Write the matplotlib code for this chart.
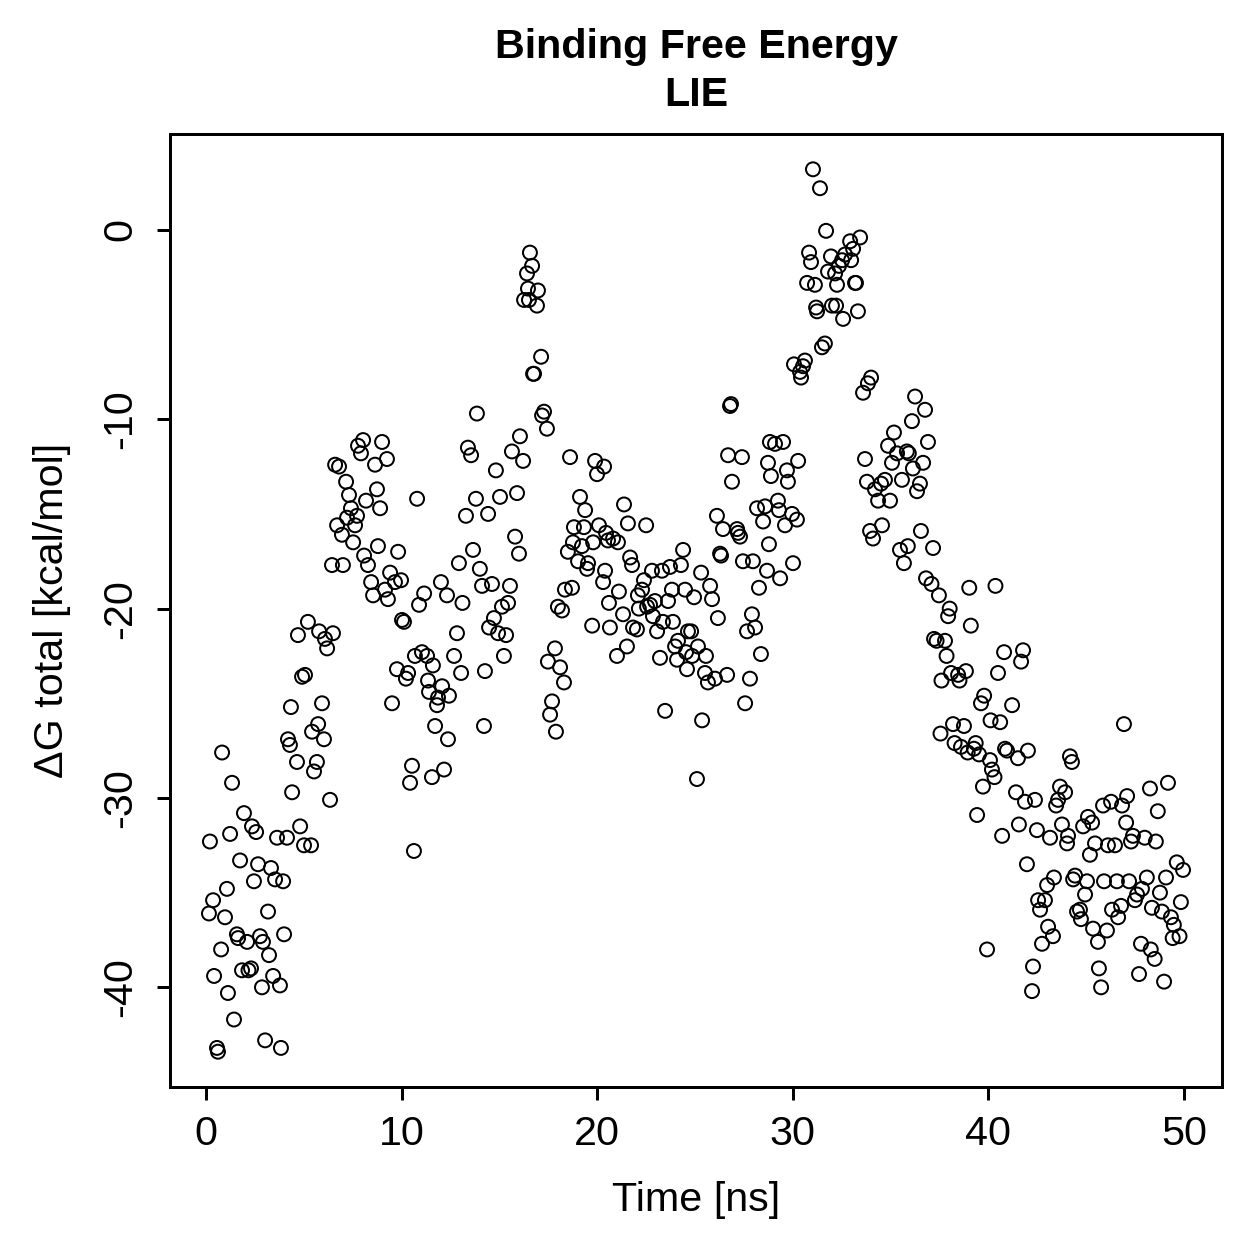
import matplotlib
matplotlib.use("Agg")
import matplotlib.pyplot as plt

plt.rcParams['font.family'] = ['Liberation Sans', 'DejaVu Sans']

# time [ns] and dG total [kcal/mol]
time_ns = [
    0.15, 0.2, 0.36, 0.41, 0.56, 0.61, 0.77, 0.82, 0.97, 1.07, 1.12, 1.23, 1.33, 1.43, 1.58,
    1.64, 1.74, 1.84, 1.94, 2.1, 2.17, 2.3, 2.35, 2.45, 2.56, 2.66, 2.76, 2.86, 2.91, 3.02,
    3.17, 3.22, 3.32, 3.43, 3.53, 3.63, 3.78, 3.83, 3.94, 3.99, 4.14, 4.19, 4.29, 4.34, 4.4,
    4.65, 4.7, 4.81, 4.91, 5.01, 5.06, 5.21, 5.37, 5.42, 5.52, 5.67, 5.73, 5.78, 5.93, 6.03,
    6.08, 6.19, 6.34, 6.44, 6.49, 6.6, 6.7, 6.8, 6.95, 7.0, 7.16, 7.21, 7.31, 7.41, 7.52,
    7.62, 7.72, 7.77, 7.92, 8.03, 8.08, 8.18, 8.28,
    8.44, 8.54, 8.64, 8.74, 8.79, 8.9, 9.0, 9.15, 9.25, 9.3, 9.41, 9.51, 9.66, 9.76, 9.82,
    9.97, 10.02, 10.12, 10.22, 10.33, 10.43, 10.53, 10.63, 10.68, 10.79, 10.89, 11.04, 11.15,
    11.3, 11.35, 11.4, 11.55, 11.6, 11.71, 11.81, 11.86, 12.01, 12.07, 12.17, 12.32, 12.37, 12.42,
    12.68, 12.83, 12.93, 13.04, 13.11, 13.29, 13.39, 13.55, 13.65, 13.8, 13.85, 14.0, 14.11,
    14.21, 14.26, 14.42, 14.47, 14.62, 14.72, 14.82, 14.93, 15.03, 15.13, 15.23, 15.34, 15.44,
    15.54, 15.64, 15.8, 15.9, 16.0, 16.05, 16.21,
    16.26, 16.41, 16.46, 16.51, 16.56, 16.67, 16.72, 16.77, 16.92, 16.97,
    17.13, 17.18, 17.28, 17.43, 17.48, 17.59, 17.69, 17.84, 17.89, 17.99, 18.1, 18.2, 18.3,
    18.35, 18.5, 18.61, 18.71, 18.76, 18.81, 19.02, 19.12, 19.22, 19.32, 19.38, 19.48, 19.53,
    19.74, 19.79, 19.89, 19.99, 20.09, 20.3, 20.35, 20.4, 20.45, 20.55, 20.6, 20.65,
    20.81, 21.01, 21.06, 21.11, 21.32, 21.37, 21.52, 21.57, 21.68, 21.78, 21.83, 22.03, 22.08,
    22.13, 22.29, 22.39, 22.5, 22.55, 22.7, 22.8, 22.85, 22.95, 23.06, 23.21, 23.31, 23.36,
    23.47, 23.62, 23.72, 23.82, 23.87, 23.98, 24.08, 24.13, 24.28, 24.39, 24.49, 24.54, 24.59, 24.64,
    24.8, 24.85, 24.95, 25.1, 25.15, 25.31, 25.36, 25.51, 25.56, 25.66, 25.77, 25.87, 26.02,
    26.12, 26.17, 26.28, 26.33, 26.43, 26.64, 26.69, 26.79, 26.84, 26.89, 27.15, 27.2, 27.3,
    27.4, 27.45, 27.56, 27.66, 27.81, 27.91, 27.96, 28.07, 28.17, 28.27, 28.37, 28.48, 28.58,
    28.68, 28.73, 28.78, 28.83, 28.88,
    29.09, 29.24, 29.29, 29.35, 29.5, 29.6, 29.7, 29.75, 29.96, 30.01, 30.06, 30.21, 30.27,
    30.37, 30.42, 30.52, 30.62, 30.73, 30.83, 30.93, 31.03, 31.13, 31.19, 31.24, 31.39, 31.49,
    31.64, 31.7, 31.8, 31.95, 32.0, 32.16, 32.21, 32.26, 32.36, 32.52, 32.57, 32.67,
    32.93, 32.98, 33.08, 33.18, 33.23, 33.33, 33.44, 33.59, 33.69, 33.79, 33.84, 33.95, 34.0,
    34.1, 34.2, 34.36, 34.51, 34.56, 34.71, 34.87, 34.97, 35.07, 35.17, 35.33, 35.48, 35.58,
    35.68, 35.83, 35.88, 35.93, 36.09, 36.14, 36.25, 36.35, 36.5, 36.55, 36.66, 36.76, 36.81, 36.91,
    37.09, 37.17, 37.22, 37.35, 37.47, 37.55, 37.6, 37.78, 37.86, 37.94, 38.02, 38.09, 38.19,
    38.27, 38.45, 38.52, 38.6, 38.75, 38.85, 38.94, 39.02, 39.1, 39.26, 39.35, 39.42, 39.52,
    39.62, 39.72, 39.78, 39.93, 40.08, 40.11, 40.18, 40.31, 40.36, 40.49, 40.6, 40.7, 40.8,
    40.85, 40.95,
    41.21, 41.41, 41.51, 41.56, 41.67, 41.77, 41.87, 41.97, 42.02, 42.23, 42.28, 42.38, 42.48,
    42.54, 42.64, 42.74, 42.89, 43.0, 43.05, 43.15, 43.3, 43.35, 43.46, 43.56, 43.66, 43.76,
    43.92, 44.02, 44.07, 44.17, 44.27, 44.33, 44.43, 44.53, 44.68, 44.73, 44.84, 44.94, 45.04, 45.09,
    45.19, 45.3, 45.35, 45.45, 45.6, 45.65, 45.76, 45.86, 45.91, 46.06, 46.11, 46.27, 46.32,
    46.47, 46.57, 46.63, 46.78, 46.83, 46.93, 47.04, 47.09, 47.19, 47.29, 47.39, 47.49, 47.6,
    47.7, 47.8, 47.85, 47.99, 48.1, 48.26, 48.3, 48.36, 48.5, 48.56, 48.66, 48.77, 48.87,
    48.98, 49.08, 49.18, 49.33, 49.42, 49.48, 49.63, 49.77, 49.84, 49.95,
]

dg_total = [
    -36.1, -32.3, -35.4, -39.4, -43.2, -43.4, -38.0, -27.6, -36.3, -34.8, -40.3, -31.9, -29.2, -41.7, -37.2,
    -37.4, -33.3, -39.1, -30.8, -37.6, -39.1, -39.0, -31.5, -34.4, -31.8, -33.5, -37.3, -40.0, -37.6, -42.8,
    -36.0, -38.3, -33.7, -39.4, -34.3, -32.1, -39.9, -43.2, -34.4, -37.2, -32.1, -26.9, -27.2, -25.2, -29.7,
    -28.1, -21.4, -31.5, -23.6, -32.5, -23.5, -20.7, -32.5, -26.5, -28.6, -28.1, -26.1, -21.2, -25.0, -26.9,
    -21.6, -22.1, -30.1, -17.7, -21.3, -12.4, -15.6, -12.5, -16.1, -17.7, -13.3, -15.2, -14.0, -14.7, -16.5,
    -15.6, -15.1, -11.4, -11.8, -11.1, -17.2, -14.3, -17.7,
    -18.6, -19.3, -12.4, -13.7, -16.7, -14.7, -11.2, -19.0, -12.1, -19.5, -18.1, -25.0, -18.6, -23.2, -17.0,
    -18.5, -20.6, -20.7, -23.7, -23.4, -29.2, -28.3, -32.8, -22.5, -14.2, -19.8, -22.3, -19.2,
    -22.5, -23.8, -24.4, -28.9, -23.0, -26.2, -25.1, -24.7, -18.6, -24.1, -28.5, -19.3, -26.9, -24.6,
    -22.5, -21.3, -17.6, -23.4, -19.7, -15.1, -11.5, -11.9, -16.9, -14.2, -9.7, -17.9, -18.8,
    -26.2, -23.3, -15.0, -21.0, -18.7, -20.5, -12.7, -21.3, -14.1, -19.9, -22.5, -21.4, -19.7,
    -18.8, -11.7, -16.2, -13.9, -17.1, -10.9, -12.2,
    -3.7, -2.3, -3.1, -3.7, -1.2, -1.9, -7.6, -7.6, -4.0, -3.2,
    -6.7, -9.8, -9.6, -10.5, -22.8, -25.6, -24.9, -22.1, -26.5, -19.9, -23.1, -20.1, -23.9,
    -19.0, -17.0, -12.0, -18.9, -16.5, -15.7, -17.5, -14.1, -16.7, -15.7, -14.8, -17.9, -17.6,
    -20.9, -16.5, -12.2, -12.9, -15.6, -18.6, -12.5, -18.0, -16.0, -16.4, -19.7, -21.0,
    -16.3, -22.5, -16.5, -19.1, -20.3, -14.5, -22.0, -15.5, -17.3, -17.7, -21.0, -21.1, -19.3,
    -20.0, -19.0, -18.5, -15.6, -19.9, -19.8, -18.0, -20.4, -19.6, -21.2, -22.6, -18.0, -20.7,
    -25.4, -19.6, -17.8, -19.0, -20.7, -22.0, -22.7, -21.7, -17.7, -16.9, -19.0, -22.3, -23.2, -21.2,
    -21.2, -22.5, -19.4, -29.0, -22.0, -18.1, -25.9, -23.4, -22.5, -23.9, -18.8, -19.5, -23.7,
    -15.1, -20.5, -17.1, -17.2, -15.8, -23.5, -11.9, -9.3, -9.2, -13.3, -15.8, -16.0, -16.2,
    -12.0, -17.5, -25.0, -21.2, -23.7, -20.3, -17.5, -21.0, -14.7, -18.9, -22.4, -15.4, -14.6,
    -18.0, -12.3, -16.6, -11.2, -13.0,
    -11.3, -14.3, -14.8, -18.4, -11.2, -15.6, -12.7, -13.3, -15.0, -17.6, -7.1, -15.3, -12.2,
    -7.5, -7.8, -7.2, -6.9, -2.8, -1.2, -1.7, 3.2, -2.9, -4.1, -4.3, 2.2, -6.2,
    -6.0, -0.05, -2.2, -1.4, -4.0, -2.3, -4.0, -2.9, -1.9, -1.6, -4.7, -1.3,
    -0.6, -1.6, -1.0, -2.8, -2.8, -4.3, -0.4, -8.6, -12.1, -13.3, -8.1, -15.9, -7.8,
    -16.3, -13.7, -14.3, -13.4, -15.6, -13.2, -11.4, -14.3, -12.3, -10.7, -11.8, -16.9, -13.2,
    -17.6, -11.7, -16.7, -11.8, -10.1, -12.6, -8.8, -13.8, -13.4, -15.9, -12.3, -9.5, -18.4, -11.2,
    -18.7, -16.8, -21.6, -21.7, -19.3, -26.6, -23.8, -21.7, -22.5, -20.4, -20.0, -23.4, -26.1,
    -27.1, -23.5, -23.8, -27.3, -26.2, -23.3, -27.6, -18.9, -20.9, -27.4, -27.1, -30.9, -27.7,
    -25.0, -29.4, -24.6, -38.0, -28.0, -25.9, -28.5, -28.9, -18.8, -23.4, -26.0, -32.0, -22.3,
    -27.4, -27.5,
    -25.1, -29.7, -27.9, -31.4, -22.8, -22.2, -30.2, -33.5, -27.5, -40.2, -38.9, -30.1, -31.7,
    -35.4, -35.9, -37.7, -35.4, -34.6, -36.8, -32.1, -37.3, -34.2, -30.4, -30.1, -29.4, -31.4,
    -29.7, -32.4, -32.0, -27.8, -28.1, -34.3, -34.1, -36.0, -35.9, -36.4, -31.5, -35.1, -34.4, -31.0,
    -33.0, -31.3, -36.9, -32.4, -37.6, -39.0, -40.0, -30.4, -34.4, -37.0, -32.5, -30.2, -35.9,
    -32.5, -34.4, -36.3, -35.7, -30.4, -26.1, -31.3, -29.9, -34.4, -32.3, -32.0, -35.4, -35.1,
    -39.3, -37.7, -34.8, -32.1, -34.2, -29.5, -38.0, -35.8, -38.5, -32.3, -30.7, -35.0, -36.0,
    -39.7, -34.2, -29.2, -36.3, -37.4, -36.7, -33.4, -37.3, -35.5, -33.8,
]

xticks = [0, 10, 20, 30, 40, 50]
yticks = [0, -10, -20, -30, -40]

W = 1259
fig = plt.figure(figsize=(W / 180, W / 180), dpi=180)
ax = fig.add_axes([170 / W, 1 - 1087 / W, (1222 - 170) / W, (1087 - 134) / W])

ax.scatter(time_ns, dg_total, s=31, facecolors='none', edgecolors='black', linewidths=0.8)

# R-like 4% padding of the data range
xmin, xmax = min(time_ns), max(time_ns)
ymin, ymax = min(dg_total), max(dg_total)
dx = 0.04 * (xmax - xmin)
dy = 0.04 * (ymax - ymin)
ax.set_xlim(xmin - dx, xmax + dx)
ax.set_ylim(ymin - dy, ymax + dy)

ax.set_xticks(xticks)
ax.set_yticks(yticks)
ax.set_xticklabels([str(v) for v in xticks])
ax.set_yticklabels([str(v) for v in yticks], rotation=90, va='center')
ax.tick_params(direction='out', length=5.2, width=1.2, labelsize=16.5, color='black')
ax.tick_params(axis='x', pad=6)
ax.tick_params(axis='y', pad=7)
for sp in ax.spines.values():
    sp.set_linewidth(1.2)

cx = (170 + 1222) / 2 / W
fig.text(cx, 1 - 47 / W, 'Binding Free Energy', ha='center', va='center',
         fontsize=16.5, fontweight='bold')
fig.text(cx, 1 - 95 / W, 'LIE', ha='center', va='center',
         fontsize=16.5, fontweight='bold')
fig.text(cx, 1 - 1200 / W, 'Time [ns]', ha='center', va='center', fontsize=16.5)
fig.text(52 / W, 1 - 610 / W, 'ΔG total [kcal/mol]', ha='center', va='center',
         rotation=90, fontsize=16.5)

fig.savefig('out.png', dpi=180)
